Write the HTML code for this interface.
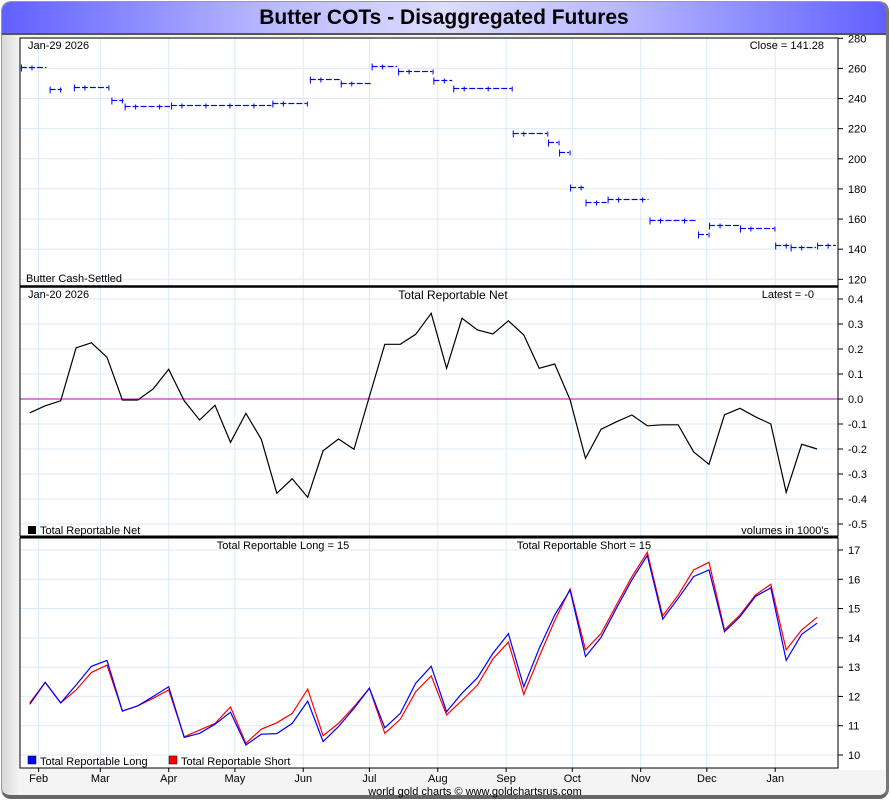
<!DOCTYPE html>
<html><head><meta charset="utf-8"><style>
html,body{margin:0;padding:0;width:890px;height:800px;overflow:hidden;background:#fff;font-family:"Liberation Sans",sans-serif}
#frame{position:absolute;left:1px;top:1px;width:884px;height:793px;border:1px solid #999;border-right:3px solid #777;border-bottom:4px solid #666;border-radius:10px;background:linear-gradient(90deg,#d8d8d8 0px,#f4f4f4 18px,#f4f4f4 100%);overflow:hidden}
#title{position:absolute;left:0;top:0;width:884px;height:31px;background:linear-gradient(90deg,#6060ff 0%,#b8b8ff 30%,#dcdcff 50%,#b8b8ff 70%,#6060ff 100%);border-bottom:2px solid #555;text-align:center;font-weight:bold;font-size:21px;line-height:31px;color:#000}
svg{position:absolute;left:0;top:0}
</style></head><body>
<div id="frame">
<div id="title">Butter COTs - Disaggregated Futures</div>
</div>
<svg id="chart" width="890" height="800"></svg>
<script>
// ---- data ----
const monthLabels=["Feb","Mar","Apr","May","Jun","Jul","Aug","Sep","Oct","Nov","Dec","Jan"];
const monthDays=[0,28,59,89,120,150,181,212,242,273,303,334];
const priceSegStart=[-8,5,16,33,39,60,106,123,137,151,163,179,188,215,231,236,241,248,258,277,299,304,318,334,341,353];
const priceSegEnd=[4,11,32,39,60,106,122,137,151,163,179,188,215,231,236,241,248,258,277,299,304,318,334,341,353,362];
const priceSegValue=[260.8,246.5,248,239,235,235.5,237,252.8,250.6,261.9,258.3,252,247,217,211,204.6,181.5,171.6,173,159.4,150,156,153.9,142.8,141.3,142.8];
const netValues=[-0.055,-0.027,-0.007,0.205,0.225,0.167,-0.004,-0.004,0.041,0.119,-0.007,-0.084,-0.025,-0.173,-0.057,-0.161,-0.377,-0.319,-0.393,-0.207,-0.16,-0.201,0.01,0.219,0.219,0.259,0.343,0.123,0.323,0.276,0.26,0.313,0.256,0.123,0.14,-0.003,-0.237,-0.121,-0.091,-0.064,-0.107,-0.103,-0.103,-0.211,-0.261,-0.063,-0.037,-0.071,-0.1,-0.373,-0.181,-0.2];
const longValues=[11.73,12.48,11.78,12.39,13.03,13.23,11.5,11.68,12.0,12.33,10.6,10.74,11.05,11.46,10.34,10.71,10.73,11.08,11.84,10.46,10.97,11.59,12.28,10.93,11.42,12.45,13.03,11.48,12.11,12.64,13.47,14.14,12.33,13.64,14.78,15.63,13.36,14.01,15.01,15.98,16.81,14.64,15.35,16.09,16.32,14.21,14.72,15.41,15.71,13.23,14.12,14.5];
const shortValues=[11.78,12.48,11.78,12.22,12.82,13.07,11.5,11.68,11.94,12.22,10.62,10.85,11.08,11.64,10.4,10.88,11.1,11.42,12.25,10.66,11.08,11.65,12.28,10.74,11.22,12.16,12.7,11.37,11.86,12.39,13.28,13.85,12.07,13.36,14.59,15.67,13.59,14.14,15.12,16.09,16.92,14.75,15.46,16.32,16.58,14.27,14.78,15.46,15.83,13.59,14.27,14.7];
const priceTicks=[280,260,240,220,200,180,160,140,120];
const netTicks=[0.4,0.3,0.2,0.1,0.0,-0.1,-0.2,-0.3,-0.4,-0.5];
const netTickLabels=["0.4","0.3","0.2","0.1","0.0","-0.1","-0.2","-0.3","-0.4","-0.5"];
const volTicks=[17,16,15,14,13,12,11,10];
const firstWeekDay=-4;

// ---- scales ----
const L=20,R=838;
const xDay=d=>38.6+d*2.2054;
const yPrice=v=>38.3+(280-v)*1.5063;
const yNet=v=>399-v*250;
const yVol=v=>755-(v-10)*29.29;
const xWeek=i=>xDay(firstWeekDay+i*7);

const svg=document.getElementById('chart');
const NS='http://www.w3.org/2000/svg';
function mk(tag,attrs,parent){const e=document.createElementNS(NS,tag);for(const k in attrs)e.setAttribute(k,attrs[k]);(parent||svg).appendChild(e);return e;}
function txt(x,y,s,size,anchor,fill){const t=mk('text',{x:x,y:y,'font-size':size||11,'text-anchor':anchor||'start',fill:fill||'#000','font-family':'Liberation Sans, sans-serif'});t.textContent=s;return t;}

const panels=[{t:38,b:286,name:'price-panel'},{t:287,b:536,name:'net-panel'},{t:538,b:768,name:'volume-panel'}];
panels.forEach(p=>{
  const r=mk('rect',{x:L,y:p.t,width:R-L,height:p.b-p.t,fill:'#fff'});
  
  
});
mk('rect',{x:R+1,y:36,width:46,height:734,fill:'#fff'});

panels.forEach(p=>{monthDays.forEach(d=>{mk('line',{x1:xDay(d),x2:xDay(d),y1:p.t,y2:p.b,stroke:'#dceaf6','stroke-width':1});});});
priceTicks.forEach(v=>{const y=yPrice(v);mk('line',{x1:L,x2:R,y1:y,y2:y,stroke:'#dceaf6'});mk('line',{x1:R,x2:R+5,y1:y,y2:y,stroke:'#000'});const t=txt(R+10,y+4,String(v));});
netTicks.forEach((v,i)=>{const y=yNet(v);mk('line',{x1:L,x2:R,y1:y,y2:y,stroke:'#dceaf6'});mk('line',{x1:R,x2:R+5,y1:y,y2:y,stroke:'#000'});const t=txt(R+10,y+4,netTickLabels[i]);});
volTicks.forEach(v=>{const y=yVol(v);mk('line',{x1:L,x2:R,y1:y,y2:y,stroke:'#dceaf6'});mk('line',{x1:R,x2:R+5,y1:y,y2:y,stroke:'#000'});const t=txt(R+10,y+4,String(v));});

// price dashes
const pg=mk('g',{});


priceSegStart.forEach((s,i)=>{
  const y=Math.round(yPrice(priceSegValue[i]))+0.5;
  const xs=xDay(s),xe=xDay(priceSegEnd[i]);
  let k=0;
  for(let x=xs;x<xe;x+=8,k++){
    const x2=Math.min(x+6,xe-1);
    if(x2>x) mk('line',{x1:x,x2:x2,y1:y,y2:y,stroke:'#00f','stroke-width':1.2},pg);
    if(k%3==1) mk('line',{x1:x+3,x2:x+3,y1:y-2,y2:y+3,stroke:'#00f','stroke-width':1},pg);
  }
  mk('line',{x1:xs+0.5,x2:xs+0.5,y1:y-3,y2:y+4,stroke:'#00f','stroke-width':1},pg);
});

const z=mk('line',{x1:L,x2:R,y1:yNet(0),y2:yNet(0),stroke:'#cc33cc','stroke-width':1.3});

const np=mk('polyline',{points:netValues.map((v,i)=>xWeek(i).toFixed(1)+','+yNet(v).toFixed(1)).join(' '),fill:'none',stroke:'#000','stroke-width':1.2});

const sp=mk('polyline',{points:shortValues.map((v,i)=>xWeek(i).toFixed(1)+','+yVol(v).toFixed(1)).join(' '),fill:'none',stroke:'#f00','stroke-width':1.2});

const lp=mk('polyline',{points:longValues.map((v,i)=>xWeek(i).toFixed(1)+','+yVol(v).toFixed(1)).join(' '),fill:'none',stroke:'#00f','stroke-width':1.2});


panels.forEach(p=>mk('rect',{x:L,y:p.t,width:R-L,height:p.b-p.t,fill:'none',stroke:'#000','stroke-width':1}));
mk('line',{x1:L,x2:R,y1:286.5,y2:286.5,stroke:'#000','stroke-width':2.5});
mk('line',{x1:L,x2:R,y1:537,y2:537,stroke:'#000','stroke-width':2.5});

monthDays.forEach((d,i)=>{const x=xDay(d);mk('line',{x1:x,x2:x,y1:768,y2:772,stroke:'#000'});const t=txt(x,782,monthLabels[i],11,'middle');});

let t;
t=txt(28,49,'Jan-29  2026',11);
t=txt(824,49,'Close = 141.28',11,'end');
t=txt(26,282,'Butter Cash-Settled',11);
t=txt(28,298,'Jan-20  2026',11);
t=txt(453,299,'Total Reportable Net',12,'middle');
t=txt(814,298,'Latest = -0',11,'end');
mk('rect',{x:28,y:526,width:8,height:8,fill:'#000'});
t=txt(40,534,'Total Reportable Net',11);
t=txt(829,534,'volumes in 1000\'s',11,'end');
t=txt(283,549,'Total Reportable Long = 15',11,'middle');
t=txt(584,549,'Total Reportable Short = 15',11,'middle');
mk('rect',{x:28,y:756,width:8,height:8,fill:'#00f',stroke:'#000','stroke-width':0.5});
t=txt(40,765,'Total Reportable Long',11);
mk('rect',{x:169,y:756,width:8,height:8,fill:'#f00',stroke:'#000','stroke-width':0.5});
t=txt(181,765,'Total Reportable Short',11);
t=txt(475,795,'world gold charts \u00a9 www.goldchartsrus.com',11,'middle');
</script>
</body></html>
